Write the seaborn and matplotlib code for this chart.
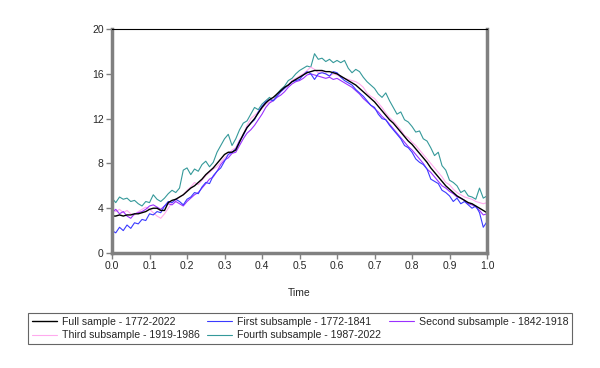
import numpy as np
import pandas as pd
import matplotlib
matplotlib.use("Agg")
import matplotlib.pyplot as plt
from matplotlib.lines import Line2D
import seaborn as sns

# -----------------------------
# Data (x = 0.00 .. 1.00 step 0.01)
# -----------------------------
time = [round(i * 0.01, 2) for i in range(101)]

full_sample = [
    3.3, 3.3, 3.4, 3.3, 3.4, 3.4, 3.5, 3.5, 3.6, 3.7, 3.9,
    4.0, 4.0, 3.8, 3.8, 4.5, 4.7, 4.8, 5.0, 5.2, 5.5,
    5.8, 6.0, 6.3, 6.6, 7.0, 7.3, 7.6, 8.0, 8.4, 8.8,
    9.0, 9.0, 9.2, 9.9, 10.6, 11.2, 11.6, 12.0, 12.5, 13.0,
    13.4, 13.7, 13.9, 14.2, 14.5, 14.8, 15.0, 15.3, 15.5, 15.7,
    15.9, 16.1, 16.2, 16.3, 16.3, 16.3, 16.2, 16.2, 16.1, 16.0,
    15.8, 15.6, 15.4, 15.2, 15.0, 14.7, 14.4, 14.1, 13.8, 13.5,
    13.1, 12.7, 12.3, 11.9, 11.6, 11.2, 10.8, 10.4, 10.0, 9.7,
    9.3, 8.9, 8.5, 8.1, 7.6, 7.2, 6.8, 6.4, 6.0, 5.7,
    5.4, 5.1, 4.9, 4.7, 4.5, 4.4, 4.2, 4.0, 3.8, 3.6,
]

first_sub = [
    2.0, 1.8, 2.3, 2.0, 2.5, 2.2, 2.7, 2.6, 3.0, 2.9, 3.5,
    3.4, 3.7, 3.6, 4.2, 4.6, 4.5, 4.8, 4.6, 4.3, 4.8,
    5.0, 5.4, 5.3, 5.9, 6.3, 6.2, 6.9, 7.3, 7.6, 8.2,
    8.8, 9.0, 9.3, 10.0, 10.5, 11.2, 11.6, 11.9, 12.6, 13.1,
    13.5, 13.7, 13.6, 14.0, 14.4, 14.7, 15.0, 15.3, 15.4, 15.5,
    15.9, 16.2, 16.0, 15.5, 16.0, 16.1, 16.0, 15.8, 16.2, 16.1,
    15.7, 15.4, 15.2, 15.0, 14.6, 14.3, 14.0, 13.6, 13.2, 13.0,
    12.4, 12.0, 11.9, 11.4, 11.0, 10.6, 10.2, 9.6, 9.4, 9.0,
    8.4, 8.1, 7.9, 7.5, 6.6, 6.4, 6.2, 5.6, 5.4, 5.1,
    4.6, 4.9, 4.4, 4.6, 4.3, 4.0, 4.2, 3.6, 2.3, 2.8,
]

second_sub = [
    3.6, 3.9, 3.5, 3.7, 3.3, 3.1, 3.5, 3.6, 3.7, 3.9, 4.2,
    4.3, 4.1, 3.9, 4.2, 4.4, 4.3, 4.6, 4.4, 4.2, 4.6,
    4.9, 5.2, 5.4, 5.8, 6.2, 6.6, 6.8, 7.3, 7.9, 8.3,
    8.5, 8.9, 9.0, 9.6, 10.2, 10.7, 11.0, 11.4, 11.9, 12.4,
    13.0, 13.4, 13.6, 13.9, 14.1, 14.4, 14.8, 15.1, 15.3, 15.4,
    15.6, 15.9, 16.0, 15.9, 15.8, 15.7, 15.6, 15.7, 15.5, 15.6,
    15.4, 15.2, 15.0, 14.8, 14.5, 14.2, 13.8, 13.5, 13.2, 12.9,
    12.6, 12.2, 11.9, 11.5, 11.1, 10.7, 10.3, 9.9, 9.5, 9.2,
    8.8, 8.4, 8.0, 7.5, 7.2, 6.8, 6.4, 6.0, 5.8, 5.5,
    5.3, 5.0, 4.9, 4.7, 4.4, 4.3, 4.1, 3.8, 3.4, 3.5,
]

third_sub = [
    4.0, 3.7, 3.9, 3.6, 3.8, 3.5, 3.4, 3.7, 3.9, 4.1, 3.9,
    3.6, 3.3, 3.1, 3.5, 4.0, 4.5, 4.7, 5.0, 5.2, 5.6,
    5.9, 6.3, 6.1, 6.5, 6.9, 7.2, 7.5, 7.7, 8.1, 8.5,
    8.8, 9.2, 9.4, 10.1, 10.6, 11.4, 12.0, 12.3, 12.6, 12.9,
    13.3, 13.5, 13.7, 14.0, 14.4, 14.7, 15.0, 15.4, 15.6, 15.8,
    16.0, 16.3, 16.6, 16.4, 16.1, 16.2, 16.0, 15.8, 16.0, 15.9,
    15.7, 15.6, 15.5, 15.4, 15.3, 15.1, 14.8, 14.3, 14.0, 13.8,
    13.4, 13.0, 12.5, 12.1, 11.8, 11.4, 11.0, 10.5, 10.3, 9.9,
    9.6, 9.2, 8.8, 8.4, 8.0, 7.6, 7.2, 6.8, 6.3, 6.1,
    5.7, 5.4, 5.2, 5.0, 4.9, 4.8, 4.6, 4.5, 4.4, 4.5,
]

fourth_sub = [
    4.9, 4.5, 5.0, 4.8, 4.9, 4.6, 4.7, 4.4, 4.2, 4.6, 4.5,
    5.2, 4.8, 4.6, 4.9, 5.3, 5.6, 5.4, 5.8, 7.4, 7.6,
    7.0, 7.5, 7.3, 7.9, 8.2, 7.7, 8.1, 9.0, 9.6, 10.2,
    10.6, 9.6, 10.2, 11.0, 11.6, 11.8, 12.4, 13.0, 12.8, 13.3,
    13.6, 13.9, 13.6, 14.2, 14.6, 14.9, 15.4, 15.6, 16.0, 16.3,
    16.5, 16.7, 16.6, 17.8, 17.3, 17.4, 17.1, 17.3, 17.0, 17.2,
    17.0, 17.2, 16.5, 16.1, 16.4, 16.2, 15.7, 15.3, 15.0, 14.7,
    14.2, 13.9, 14.3, 13.6, 13.0, 12.4, 12.6, 11.9, 11.7, 11.3,
    10.8, 10.9, 10.2, 10.0, 9.4, 8.7, 9.0, 7.8, 7.4, 6.5,
    6.3, 6.0, 5.4, 5.6, 5.1, 5.0, 4.8, 5.8, 4.9, 5.1,
]

labels = [
    "Full sample - 1772-2022",
    "First subsample - 1772-1841",
    "Second subsample - 1842-1918",
    "Third subsample - 1919-1986",
    "Fourth subsample - 1987-2022",
]
colors = ["#000000", "#3a3aff", "#9b30ff", "#ffaaee", "#35999a"]
widths = [1.0, 0.8, 0.8, 0.8, 0.8]

series = [full_sample, first_sub, second_sub, third_sub, fourth_sub]
df = pd.concat(
    [pd.DataFrame({"time": time, "value": s, "sample": lab}) for s, lab in zip(series, labels)],
    ignore_index=True,
)

# -----------------------------
# Plot
# -----------------------------
sns.set_style("white")
plt.rcParams["font.family"] = ["Liberation Sans", "DejaVu Sans"]

fig = plt.figure(figsize=(6, 3.68), dpi=100)
ax = fig.add_axes([0.1867, 0.3125, 0.625, 0.6085])

# draw in reverse so the full sample sits on top
for lab, col, lw in reversed(list(zip(labels, colors, widths))):
    sns.lineplot(data=df[df["sample"] == lab], x="time", y="value",
                 color=col, linewidth=lw, ax=ax, legend=False)

ax.set_xlim(0, 1)
ax.set_ylim(0, 20)
ax.set_xticks(np.arange(0, 1.01, 0.1))
ax.set_xticklabels([f"{v:.1f}" for v in np.arange(0, 1.01, 0.1)])
ax.set_yticks(range(0, 21, 4))
ax.tick_params(axis="both", direction="out", length=4, width=1, color="#808080",
               labelsize=7.5, pad=2, bottom=True, left=True)
ax.set_xlabel("Time", fontsize=7.5, labelpad=12)
ax.set_ylabel("")

for side in ["left", "bottom", "right"]:
    ax.spines[side].set_color("#808080")
    ax.spines[side].set_linewidth(2.5)
ax.spines["top"].set_color("#000000")
ax.spines["top"].set_linewidth(0.8)

# legend is filled column by column, so order it to read row by row
style = {lab: (col, lw) for lab, col, lw in zip(labels, colors, widths)}
leg_order = [labels[0], labels[3], labels[1], labels[4], labels[2]]
handles = [Line2D([], [], color=style[l][0], linewidth=style[l][1]) for l in leg_order]
leg = fig.legend(handles, leg_order,
                 loc="center", bbox_to_anchor=(0.5, 0.107), ncol=3,
                 fontsize=7.6, frameon=True, fancybox=False,
                 handlelength=2.4, handletextpad=0.45, columnspacing=0.7,
                 labelspacing=0.35, borderpad=0.35)
leg.get_frame().set_edgecolor("#404040")
leg.get_frame().set_linewidth(0.8)

fig.savefig("out.png", dpi=100)
